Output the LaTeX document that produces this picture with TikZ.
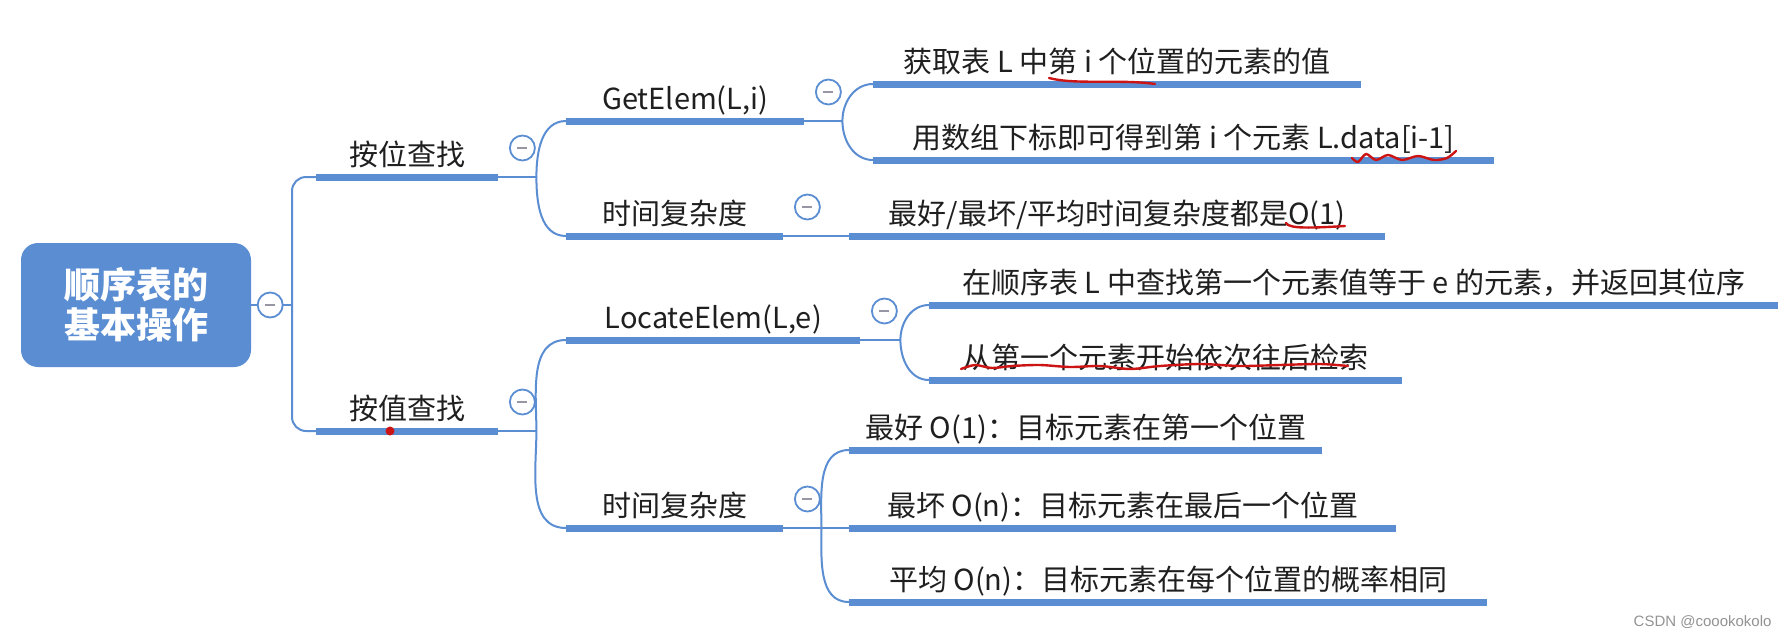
\documentclass[tikz,border=0pt]{standalone}
\usepackage{fontspec}
\setmainfont{Noto Sans CJK SC}
\newfontfamily\markfont{Liberation Sans}
\definecolor{mapblue}{RGB}{91,141,210}
\definecolor{foldgray}{RGB}{150,150,165}
\definecolor{penred}{RGB}{205,20,20}
\newcommand{\topicfont}{\fontsize{29}{34}\selectfont}
\newcommand{\rootfont}{\fontsize{36}{40}\selectfont\bfseries}

\begin{document}
\begin{tikzpicture}[x=1pt, y=-1pt,
  topic/.style={anchor=south west, inner xsep=0pt, inner ysep=9pt,
    text height=0.8em, text depth=0.2em, font=\topicfont, text=black!88},
  rootbox/.style={fill=mapblue, rounded corners=17pt, minimum width=230pt,
    minimum height=124pt, align=center, text=white, font=\rootfont},
  bar/.style={line width=7pt, mapblue},
  link/.style={line width=2pt, mapblue},
  fold/.style={circle, draw=mapblue, line width=1.8pt, fill=white,
    minimum size=25pt, inner sep=0pt,
    path picture={\draw[foldgray, line width=1.6pt]
      ([xshift=-5pt]path picture bounding box.center) --
      ([xshift=5pt]path picture bounding box.center);}},
  note/.style={penred, line width=2.4pt, line cap=round, line join=round}
]
\fill[white] (0,0) rectangle (1787,637);
\useasboundingbox (0,0) rectangle (1787,637);

% Root
\node[rootbox] (root) at (136,305) {顺序表的\\基本操作};
\coordinate (spine) at (292,305);

% Level 1
\node[topic, minimum width=182pt] (pos) at (316,177) {按位查找};
\node[topic, minimum width=182pt] (val) at (316,431) {按值查找};

% Level 2
\node[topic, minimum width=238pt] (get) at (566,121) {GetElem(L,i)};
\node[topic, minimum width=217pt] (tpos) at (566,236) {时间复杂度};
\node[topic, minimum width=294pt] (loc) at (566,340) {LocateElem(L,e)};
\node[topic, minimum width=217pt] (tval) at (566,528) {时间复杂度};

% Level 3
\node[topic, minimum width=488pt] (get1) at (873,84) {获取表 L 中第 i 个位置的元素的值};
\node[topic, minimum width=621pt] (get2) at (873,160) {用数组下标即可得到第 i 个元素 L.data[i-1]};
\node[topic, minimum width=536pt] (tpos1) at (849,236) {最好/最坏/平均时间复杂度都是O(1)};
\node[topic, minimum width=849pt] (loc1) at (929,305) {在顺序表 L 中查找第一个元素值等于 e 的元素，并返回其位序};
\node[topic, minimum width=473pt] (loc2) at (929,380) {从第一个元素开始依次往后检索};
\node[topic, minimum width=473pt] (tval1) at (849,450) {最好 O(1)：目标元素在第一个位置};
\node[topic, minimum width=547pt] (tval2) at (849,528) {最坏 O(n)：目标元素在最后一个位置};
\node[topic, minimum width=638pt] (tval3) at (849,602) {平均 O(n)：目标元素在每个位置的概率相同};

% Bars under the topics
\foreach \n in {pos,val,get,tpos,loc,tval,get1,get2,tpos1,loc1,loc2,tval1,tval2,tval3}
  \draw[bar] (\n.south west) -- (\n.south east);

% Forks
\coordinate (fpos) at ([xshift=38pt]pos.south east);
\coordinate (fval) at ([xshift=38pt]val.south east);
\coordinate (fget) at ([xshift=38pt]get.south east);
\coordinate (floc) at ([xshift=40pt]loc.south east);
\coordinate (ftval) at ([xshift=38pt]tval.south east);

% Connectors
\draw[link] (root.east) -- (spine);
\draw[link, rounded corners=14pt] (pos.south west) -| (spine) |- (val.south west);
\draw[link] (pos.south east) -- (fpos);
\draw[link] (fpos) to[out=90, in=180] (get.south west);
\draw[link] (fpos) to[out=-90, in=180] (tpos.south west);
\draw[link] (val.south east) -- (fval);
\draw[link] (fval) to[out=90, in=180] (loc.south west);
\draw[link] (fval) to[out=-90, in=180] (tval.south west);
\draw[link] (get.south east) -- (fget);
\draw[link] (fget) to[out=90, in=180] (get1.south west);
\draw[link] (fget) to[out=-90, in=180] (get2.south west);
\draw[link] (tpos.south east) -- (tpos1.south west);
\draw[link] (loc.south east) -- (floc);
\draw[link] (floc) to[out=90, in=180] (loc1.south west);
\draw[link] (floc) to[out=-90, in=180] (loc2.south west);
\draw[link] (tval.south east) -- (tval2.south west);
\draw[link] (ftval) to[out=90, in=180] (tval1.south west);
\draw[link] (ftval) to[out=-90, in=180] (tval3.south west);

% Fold buttons
\node[fold] (root-f) at ([xshift=19pt]root.east) {};
\foreach \n in {pos,val,get,tpos,loc,tval}
  \node[fold] (\n-f) at ([shift={(24,-29)}]\n.south east) {};

% Pen marks
\draw[note] (1049,78) .. controls (1075,85) and (1120,79) .. (1155,84);
\draw[note] plot[smooth] coordinates {(1352,158) (1358,162) (1366,154) (1376,160) (1388,155) (1402,160) (1418,156) (1434,160) (1447,158) (1456,151)};
\draw[note] (1286,223) .. controls (1289,229) and (1312,228) .. (1345,226);
\draw[note] plot[smooth] coordinates {(961,369) (975,365) (992,368) (1012,366) (1040,365) (1070,367) (1100,366) (1130,369) (1160,366) (1200,364) (1240,366) (1280,365) (1320,364) (1348,366)};
\fill[penred] (390,431) circle (4.5);

% Watermark
\node[font=\markfont\fontsize{15}{18}\selectfont, text=gray!85, anchor=east] (mark) at (1775,622) {CSDN @coookokolo};
\end{tikzpicture}
\end{document}
